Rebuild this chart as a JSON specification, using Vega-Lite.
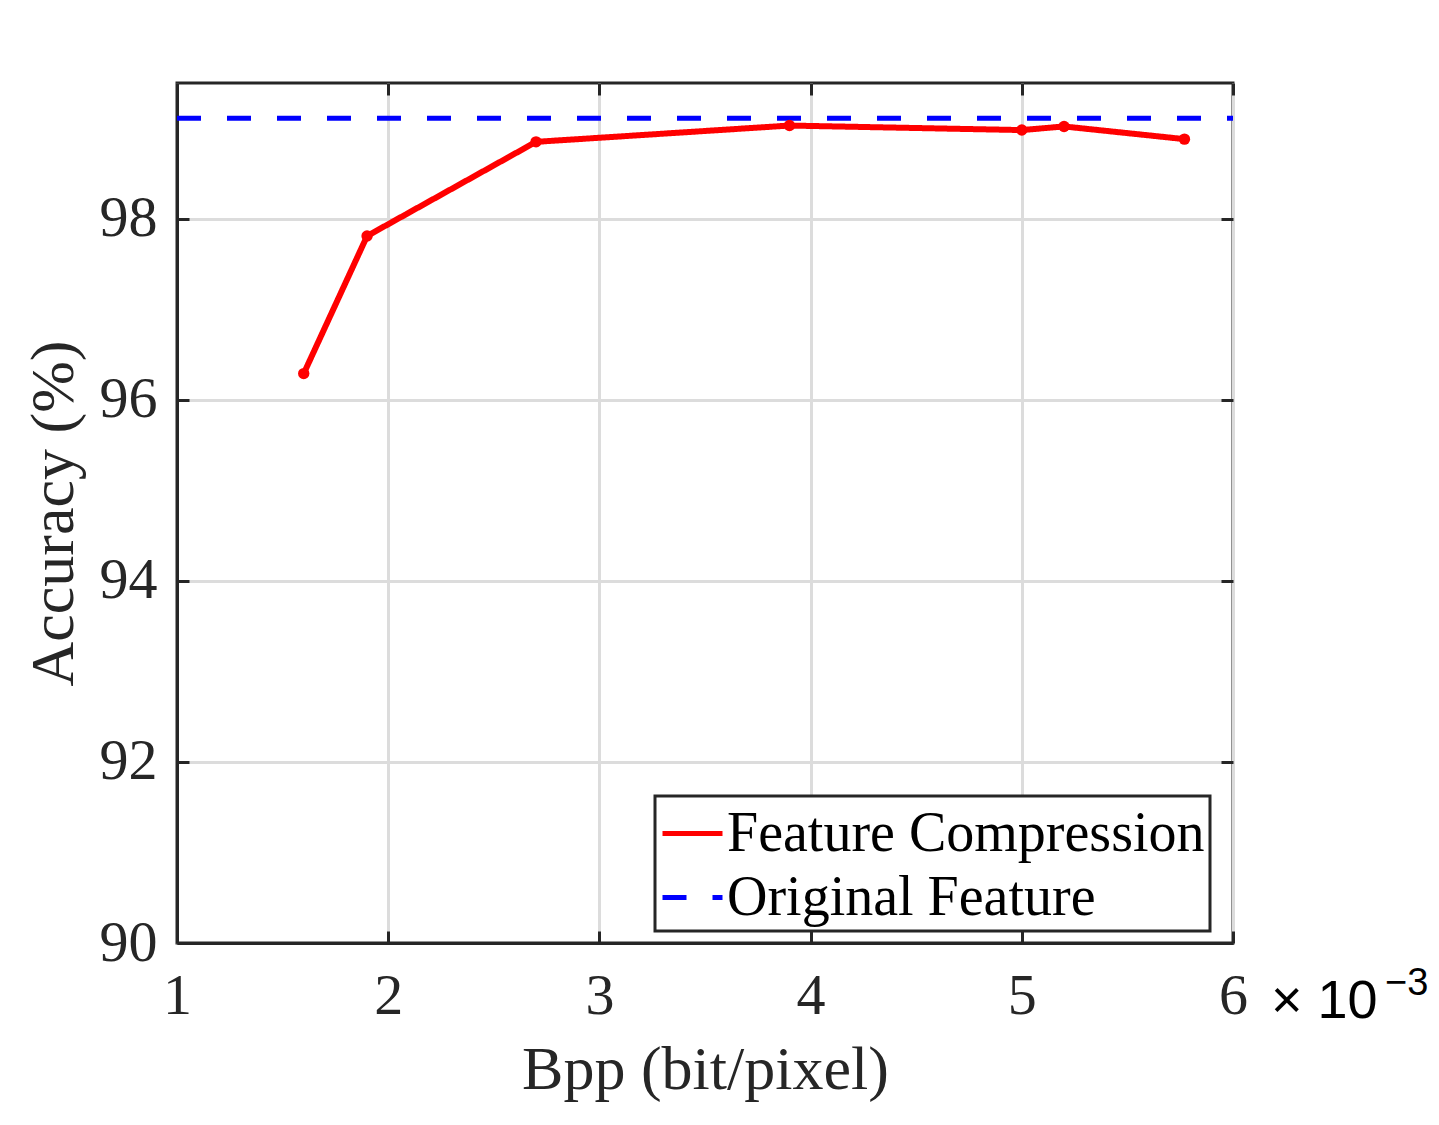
{
  "$schema": "https://vega.github.io/schema/vega-lite/v6.json",
  "width": 1056,
  "height": 860,
  "autosize": {"type": "none"},
  "padding": {"left": 177, "top": 83, "right": 206, "bottom": 182},
  "background": "white",
  "config": {
    "view": {"stroke": "#262626", "strokeWidth": 3},
    "font": "Liberation Serif",
    "axis": {
      "labelFont": "Liberation Serif",
      "titleFont": "Liberation Serif",
      "labelFontSize": 58,
      "titleFontSize": 62,
      "labelColor": "#262626",
      "titleColor": "#262626",
      "titleFontWeight": "normal",
      "domainColor": "#262626",
      "domainWidth": 3,
      "tickColor": "#262626",
      "tickWidth": 3,
      "gridColor": "#dcdcdc",
      "gridWidth": 3,
      "gridOpacity": 1
    },
    "legend": {
      "symbolType": "stroke",
      "symbolSize": 3600,
      "symbolStrokeWidth": 5,
      "labelFont": "Liberation Serif",
      "labelFontSize": 56,
      "labelColor": "black",
      "labelLimit": 1000,
      "labelOffset": 2,
      "rowPadding": 3,
      "padding": 5,
      "strokeColor": "#262626",
      "fillColor": "white"
    }
  },
  "resolve": {"axis": {"x": "independent", "y": "independent"}},
  "datasets": {
    "fc": [
      {"bpp": 1.6, "acc": 96.29, "series": "Feature Compression"},
      {"bpp": 1.9, "acc": 97.81, "series": "Feature Compression"},
      {"bpp": 2.7, "acc": 98.85, "series": "Feature Compression"},
      {"bpp": 3.9, "acc": 99.03, "series": "Feature Compression"},
      {"bpp": 5.0, "acc": 98.98, "series": "Feature Compression"},
      {"bpp": 5.2, "acc": 99.02, "series": "Feature Compression"},
      {"bpp": 5.77, "acc": 98.88, "series": "Feature Compression"}
    ],
    "orig": [
      {"bpp": 1, "acc": 99.11, "series": "Original Feature"},
      {"bpp": 6, "acc": 99.11, "series": "Original Feature"}
    ],
    "note": [
      {"bpp": 6, "acc": 90, "base": "× 10", "exp": "−3"}
    ]
  },
  "layer": [
    {
      "data": {"name": "fc"},
      "mark": {"type": "line", "strokeWidth": 6},
      "encoding": {
        "x": {
          "field": "bpp", "type": "quantitative",
          "scale": {"domain": [1, 6], "nice": false, "zero": false},
          "axis": {"orient": "bottom", "grid": true, "values": [1, 2, 3, 4, 5, 6], "format": "d", "title": "Bpp (bit/pixel)", "tickSize": -12, "labelPadding": 36, "titlePadding": 14, "labelFlush": false}
        },
        "y": {
          "field": "acc", "type": "quantitative",
          "scale": {"domain": [90, 99.5], "nice": false, "zero": false},
          "axis": {"orient": "left", "grid": true, "values": [90, 92, 94, 96, 98], "format": "d", "title": "Accuracy (%)", "tickSize": -12, "labelPadding": 32, "titlePadding": 14, "labelFlush": false}
        },
        "color": {
          "field": "series", "type": "nominal",
          "scale": {"domain": ["Feature Compression", "Original Feature"], "range": ["#ff0000", "#0000ff"]},
          "legend": {"title": null, "orient": "none", "legendX": 478, "legendY": 713, "encode": {"legend": {"update": {"strokeWidth": {"value": 3}}}}}
        },
        "strokeDash": {
          "field": "series", "type": "nominal",
          "scale": {"domain": ["Feature Compression", "Original Feature"], "range": [[1, 0], [24, 26]]},
          "legend": {"title": null, "orient": "none", "legendX": 478, "legendY": 713, "encode": {"legend": {"update": {"strokeWidth": {"value": 3}}}}}
        }
      }
    },
    {
      "data": {"name": "orig"},
      "mark": {"type": "line", "strokeWidth": 5, "clip": true},
      "encoding": {
        "x": {"field": "bpp", "type": "quantitative", "axis": null},
        "y": {"field": "acc", "type": "quantitative", "axis": null},
        "color": {"field": "series", "type": "nominal"},
        "strokeDash": {"field": "series", "type": "nominal"}
      }
    },
    {
      "data": {"name": "fc"},
      "mark": {"type": "point", "filled": true, "size": 130, "opacity": 1, "color": "#ff0000"},
      "encoding": {
        "x": {"field": "bpp", "type": "quantitative", "axis": {"orient": "top", "values": [1, 2, 3, 4, 5, 6], "labels": false, "title": null, "grid": false, "domain": false, "tickSize": -12}},
        "y": {"field": "acc", "type": "quantitative", "axis": {"orient": "right", "values": [90, 92, 94, 96, 98], "labels": false, "title": null, "grid": false, "domain": false, "tickSize": -12}}
      }
    },
    {
      "data": {"name": "note"},
      "mark": {"type": "text", "font": "Liberation Sans", "fontSize": 54, "align": "left", "baseline": "alphabetic", "dx": 38, "dy": 75, "color": "black"},
      "encoding": {
        "x": {"field": "bpp", "type": "quantitative", "axis": null},
        "y": {"field": "acc", "type": "quantitative", "axis": null},
        "text": {"field": "base", "type": "nominal"}
      }
    },
    {
      "data": {"name": "note"},
      "mark": {"type": "text", "font": "Liberation Sans", "fontSize": 38, "align": "left", "baseline": "alphabetic", "dx": 152, "dy": 52, "color": "black"},
      "encoding": {
        "x": {"field": "bpp", "type": "quantitative", "axis": null},
        "y": {"field": "acc", "type": "quantitative", "axis": null},
        "text": {"field": "exp", "type": "nominal"}
      }
    }
  ]
}
